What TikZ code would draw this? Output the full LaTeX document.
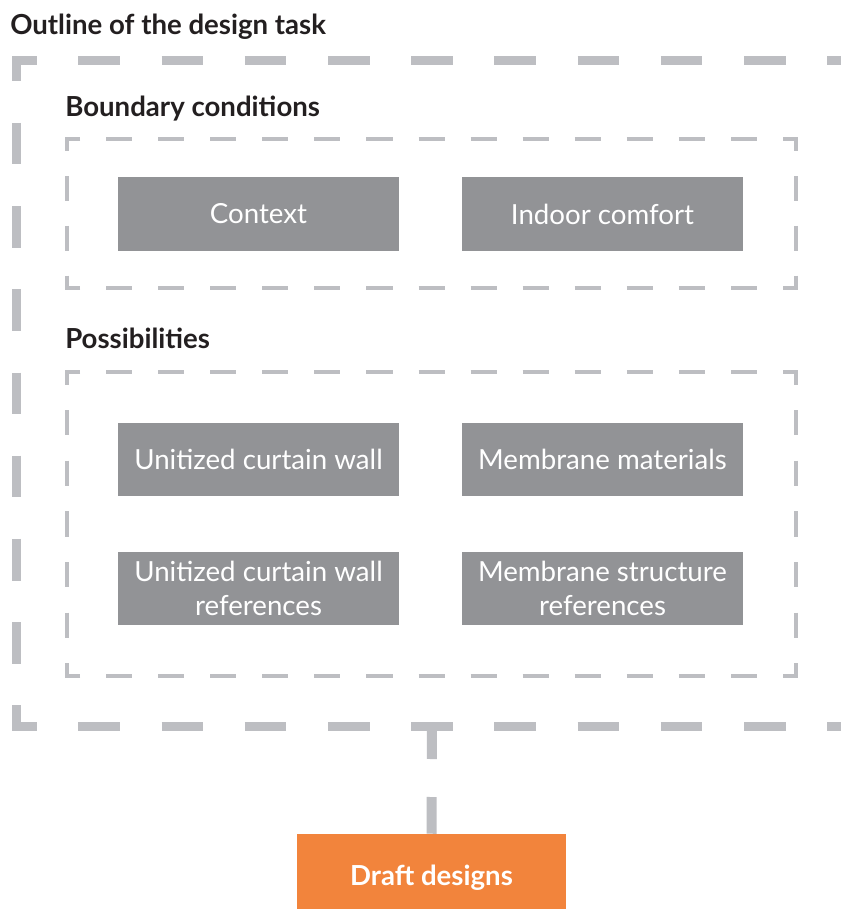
\documentclass[tikz,border=0pt]{standalone}
\usepackage{fontspec}
\setmainfont{Lato}
\definecolor{dashgray}{HTML}{BDBEC2}
\definecolor{boxgray}{HTML}{929396}
\definecolor{orangebox}{HTML}{F2843C}
\definecolor{headtext}{HTML}{231F20}
\newcommand\dashframe[6]{%
 \draw[#2, dash pattern=on #3 off #3, dash phase=#4] (#1.north west) -- (#1.north east);
 \draw[#2, dash pattern=on #3 off #3, dash phase=#4] (#1.south west) -- (#1.south east);
 \draw[#2, dash pattern=on #5 off #5, dash phase=#6] (#1.north west) -- (#1.south west);
 \draw[#2, dash pattern=on #5 off #5, dash phase=#6] (#1.north east) -- (#1.south east);
 \draw[#2] ([xshift=#4]#1.north west) -- (#1.north west) -- ([yshift=-#6]#1.north west);
 \draw[#2] ([xshift=-#4]#1.north east) -- (#1.north east) -- ([yshift=-#6]#1.north east);
 \draw[#2] ([xshift=#4]#1.south west) -- (#1.south west) -- ([yshift=#6]#1.south west);
 \draw[#2] ([xshift=-#4]#1.south east) -- (#1.south east) -- ([yshift=#6]#1.south east);
}
\begin{document}
\begin{tikzpicture}[x=0.75pt,y=-0.75pt,
  graybox/.style={fill=boxgray, text=white, minimum width=210.75pt, minimum height=54.75pt,
    inner sep=0pt, align=center, font=\fontsize{20.75}{25}\selectfont},
  heading/.style={anchor=base west, inner sep=0pt, text=headtext,
    font=\bfseries\fontsize{20.7}{25}\selectfont},
  framenode/.style={inner sep=0pt, outer sep=0pt, draw=none},
  outerline/.style={draw=dashgray, line width=6.75pt},
  innerline/.style={draw=dashgray, line width=3pt},
  connector/.style={draw=dashgray, line width=7.5pt, dash pattern=on 24.75pt off 28.5pt on 100pt off 1pt},
  draftbox/.style={fill=orangebox, text=white, minimum width=201.75pt, minimum height=63pt,
    inner sep=0pt, text height=18.5pt, text depth=4pt, font=\bfseries\fontsize{20.7}{25}\selectfont}]
\clip (0,0) rectangle (841,909);
\fill[white] (0,0) rectangle (841,909);

% frames
\node[framenode, minimum width=624pt, minimum height=499.125pt] (outline) at (432,393.25) {};
\node[framenode, minimum width=546.75pt, minimum height=111.75pt] (bc) at (431.5,213.5) {};
\node[framenode, minimum width=546.75pt, minimum height=228pt] (poss) at (431.5,524) {};

\dashframe{outline}{outerline}{31.2pt}{15.6pt}{31.2pt}{15.6pt}
\dashframe{bc}{innerline}{19.53pt}{9.76pt}{18.63pt}{9.31pt}
\dashframe{poss}{innerline}{19.53pt}{9.76pt}{19pt}{9.5pt}

% headings
\node[heading] (title) at (10,35) {Outline of the design task};
\node[heading] (bchead) at (65,116.5) {Boundary conditions};
\node[heading] (posshead) at (65,348) {Possibilities};

% boxes
\node[graybox] (context) at (258.5,214) {Context};
\node[graybox] (indoor) at (602.5,214) {Indoor comfort};
\node[graybox] (ucw) at (258.5,459) {Unitized curtain wall};
\node[graybox] (mm) at (602.5,459) {Membrane materials};
\node[graybox] (ucwref) at (258.5,588.5) {Unitized curtain wall\\references};
\node[graybox] (msref) at (602.5,588.5) {Membrane structure\\references};

% draft
\node[draftbox] (draft) at (431.5,876) {Draft designs};
\draw[connector] (outline.south) -- (draft.north);
\end{tikzpicture}
\end{document}
